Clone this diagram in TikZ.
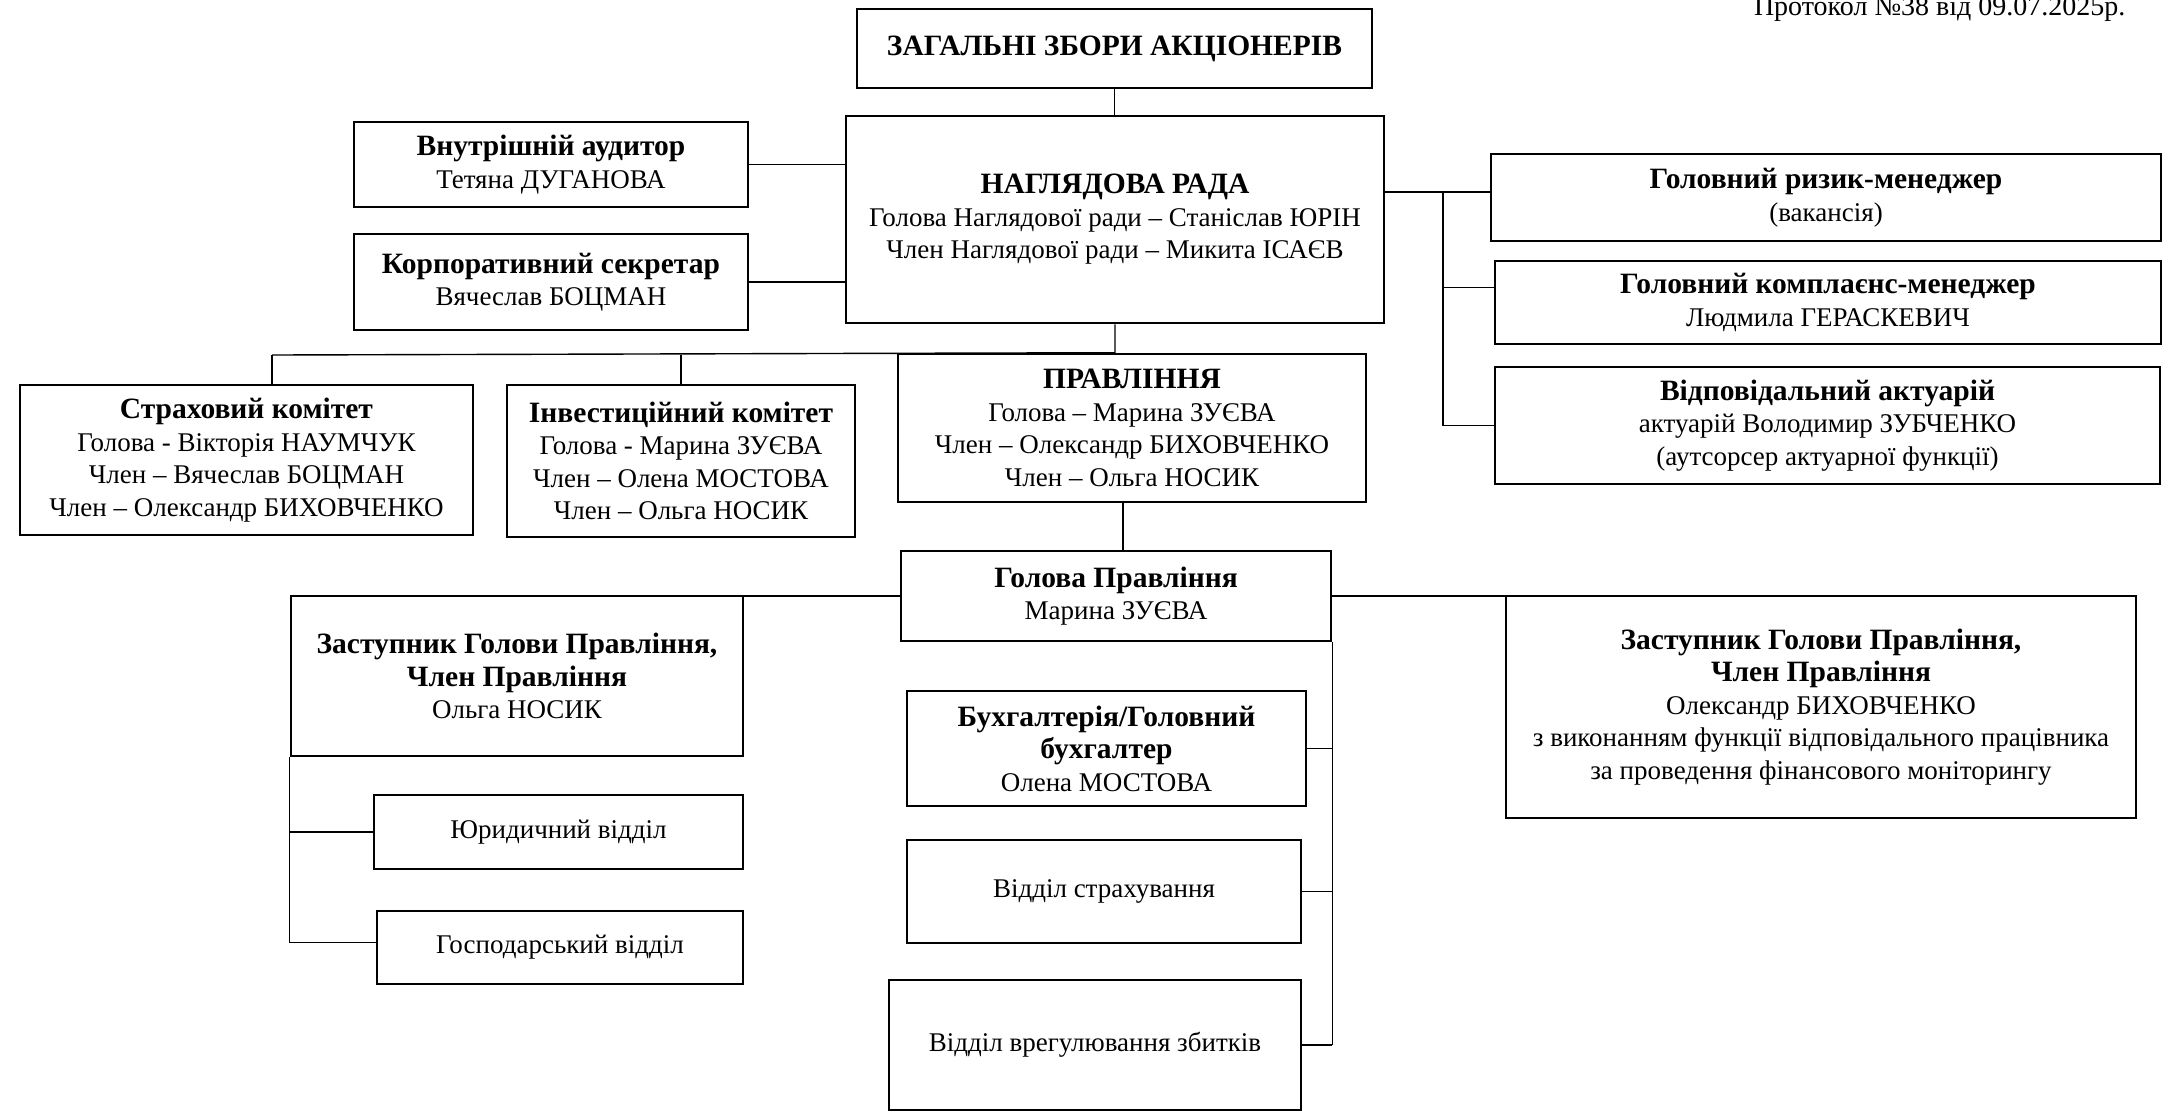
\documentclass[tikz,border=0pt]{standalone}
\usepackage{fontspec}
\setmainfont{Liberation Serif}
\usetikzlibrary{calc}
\newcommand{\boxhead}[1]{{\fontsize{29.5}{32.5}\selectfont\bfseries #1}}

\begin{document}
\begin{tikzpicture}[x=1pt,y=-1pt,
    box/.style={draw,line width=2.6pt,align=center,inner sep=0pt,font=\fontsize{27}{32.5}\selectfont},
    link/.style={line width=1.4pt}]
    \useasboundingbox (0,0) rectangle (2168,1112);
    \node[anchor=base east,font=\fontsize{28}{32}\selectfont] (prot) at (2129,15) {Протокол №38 від 09.07.2025р.};
    \node[box,minimum width=515pt,minimum height=79pt] (zbory) at (1114.5,48.5) {\boxhead{ЗАГАЛЬНІ ЗБОРИ АКЦІОНЕРІВ}};
    \node[box,minimum width=538pt,minimum height=207pt] (rada) at (1115,219.5) {\boxhead{НАГЛЯДОВА РАДА}\\Голова Наглядової ради – Станіслав ЮРІН\\Член Наглядової ради – Микита ІСАЄВ};
    \node[box,minimum width=394pt,minimum height=85pt] (audit) at (551,164.5) {\boxhead{Внутрішній аудитор}\\Тетяна ДУГАНОВА};
    \node[box,minimum width=394pt,minimum height=96pt] (sekr) at (551,282) {\boxhead{Корпоративний секретар}\\Вячеслав БОЦМАН};
    \node[box,minimum width=670pt,minimum height=87pt] (ryzyk) at (1826,197.5) {\boxhead{Головний ризик-менеджер}\\(вакансія)};
    \node[box,minimum width=666pt,minimum height=83pt] (kompl) at (1828,302.5) {\boxhead{Головний комплаєнс-менеджер}\\Людмила ГЕРАСКЕВИЧ};
    \node[box,minimum width=665pt,minimum height=117pt] (aktuar) at (1827.5,425.5) {\boxhead{Відповідальний актуарій}\\актуарій Володимир ЗУБЧЕНКО\\(аутсорсер актуарної функції)};
    \node[box,minimum width=453pt,minimum height=150pt] (strakh) at (246.5,460) {\boxhead{Страховий комітет}\\Голова - Вікторія НАУМЧУК\\Член – Вячеслав БОЦМАН\\Член – Олександр БИХОВЧЕНКО};
    \node[box,minimum width=348pt,minimum height=152pt] (invest) at (681,461) {\boxhead{Інвестиційний комітет}\\Голова - Марина ЗУЄВА\\Член – Олена МОСТОВА\\Член – Ольга НОСИК};
    \node[box,minimum width=468pt,minimum height=148pt] (pravl) at (1132,428) {\boxhead{ПРАВЛІННЯ}\\Голова – Марина ЗУЄВА\\Член – Олександр БИХОВЧЕНКО\\Член – Ольга НОСИК};
    \node[box,minimum width=430pt,minimum height=90pt] (holova) at (1116,596) {\boxhead{Голова Правління}\\Марина ЗУЄВА};
    \node[box,minimum width=452pt,minimum height=160pt] (zastl) at (517,676) {\boxhead{Заступник Голови Правління,}\\\boxhead{Член Правління}\\Ольга НОСИК};
    \node[box,minimum width=369pt,minimum height=74pt] (yur) at (558.5,832) {Юридичний відділ};
    \node[box,minimum width=366pt,minimum height=73pt] (hosp) at (560,947.5) {Господарський відділ};
    \node[box,minimum width=399pt,minimum height=115pt] (bukh) at (1106.5,748.5) {\boxhead{Бухгалтерія/Головний}\\\boxhead{бухгалтер}\\Олена МОСТОВА};
    \node[box,minimum width=394pt,minimum height=103pt] (strv) at (1104,891.5) {Відділ страхування};
    \node[box,minimum width=412pt,minimum height=130pt] (vreh) at (1095,1045) {Відділ врегулювання збитків};
    \node[box,minimum width=630pt,minimum height=222pt] (zastr) at (1821,707) {\boxhead{Заступник Голови Правління,}\\\boxhead{Член Правління}\\Олександр БИХОВЧЕНКО\\з виконанням функції відповідального працівника\\за проведення фінансового моніторингу};
    \coordinate (bus) at (272,355);
    \coordinate (rtrunk) at (1443,192);
    \coordinate (kb) at ([yshift=15pt]kompl.west);
    \coordinate (hb) at ([yshift=5pt]hosp.west);
    \coordinate (pb) at ([xshift=-9pt]pravl.south);
    \draw[link] (zbory.south) -- (zbory.south |- rada.north);
    \draw[link] (audit.east) -- (audit.east -| rada.west);
    \draw[link] (sekr.east) -- (sekr.east -| rada.west);
    \draw[link] (rada.south) -- (rada.south |- pravl.north) -- (bus);
    \draw[link] (bus) -- (bus |- strakh.north);
    \draw[link] (invest.north) -- (invest.north |- bus);
    \draw[link] (rada.east |- rtrunk) -- (rtrunk -| ryzyk.west);
    \draw[link] (rtrunk) -- (rtrunk |- aktuar.west) -- (aktuar.west);
    \draw[link] (kb) -- (kb -| rtrunk);
    \draw[link] (pb) -- (pb |- holova.north);
    \draw[link] (holova.west) -- (holova.west -| zastl.east);
    \draw[link] (holova.east) -- (holova.east -| zastr.west);
    \draw[link] (holova.south east) -- (holova.south east |- vreh.east);
    \draw[link] (bukh.east) -- (bukh.east -| holova.south east);
    \draw[link] (strv.east) -- (strv.east -| holova.south east);
    \draw[link] (vreh.east) -- (vreh.east -| holova.south east);
    \draw[link] (zastl.south west) -- (zastl.south west |- hb) -- (hb);
    \draw[link] (yur.west) -- (yur.west -| zastl.south west);
\end{tikzpicture}
\end{document}
